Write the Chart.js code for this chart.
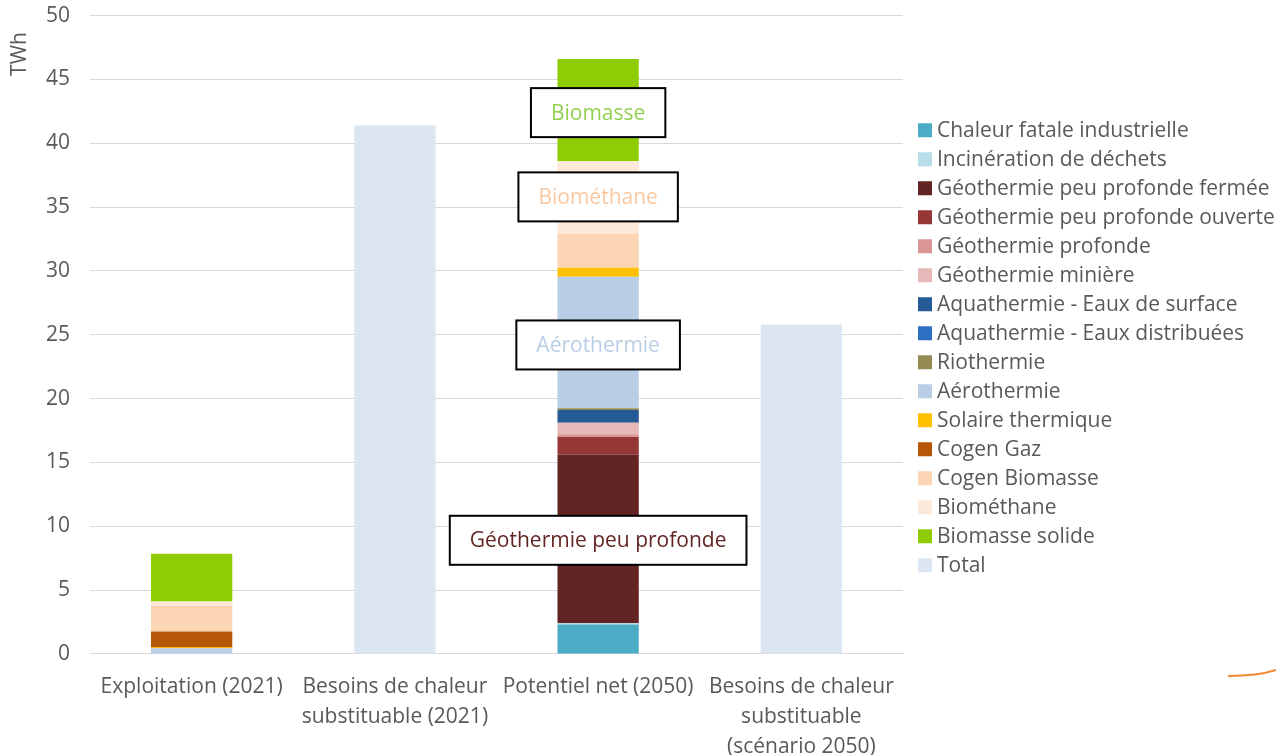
<!DOCTYPE html>
<html>
<head>
<meta charset="utf-8">
<script src="https://cdn.jsdelivr.net/npm/chart.js@4/dist/chart.umd.min.js"></script>
<style>
  html, body { margin: 0; padding: 0; background: #fff; }
  #wrap { width: 1276px; height: 755px; }
</style>
</head>
<body>
<div id="wrap"><canvas id="chart" width="1276" height="755"></canvas></div>
<script>
const categories = [
    "Exploitation (2021)",
    ["Besoins de chaleur", "substituable (2021)"],
    "Potentiel net (2050)",
    ["Besoins de chaleur", "substituable", "(scénario 2050)"]
];

// TWh par filière, une valeur par catégorie
const chaleurFatale   = [0,    null, 2.3,  null];
const incineration    = [0,    null, 0.1,  null];
const geoFermee       = [0,    null, 13.2, null];
const geoOuverte      = [0,    null, 1.4,  null];
const geoProfonde     = [0,    null, 0.2,  null];
const geoMiniere      = [0,    null, 0.9,  null];
const aquaSurface     = [0,    null, 1.0,  null];
const aquaDistrib     = [0,    null, 0,    null];
const riothermie      = [0,    null, 0.15, null];
const aerothermie     = [0.45, null, 10.3, null];
const solaire         = [0.1,  null, 0.7,  null];
const cogenGaz        = [1.2,  null, 0,    null];
const cogenBiomasse   = [2.05, null, 2.65, null];
const biomethane      = [0.3,  null, 5.7,  null];
const biomasseSolide  = [3.75, null, 8.0,  null];
const total           = [null, 41.4, null, 25.8];

const yTicks = [0, 5, 10, 15, 20, 25, 30, 35, 40, 45, 50];

// étiquettes encadrées sur la barre "Potentiel net (2050)"
const boxLabels = ["Biomasse", "Biométhane", "Aérothermie", "Géothermie peu profonde"];
const boxValues = [42.4, 35.8, 24.2, 8.9];
const boxColors = ["#92D050", "#FAC8A0", "#B9CDE5", "#632523"];

const FONT = "'Open Sans', sans-serif";
const GREY = '#595959';

const series = [
    ["Chaleur fatale industrielle", chaleurFatale, '#4BACC6'],
    ["Incinération de déchets", incineration, '#B7DEE8'],
    ["Géothermie peu profonde fermée", geoFermee, '#632523'],
    ["Géothermie peu profonde ouverte", geoOuverte, '#953735'],
    ["Géothermie profonde", geoProfonde, '#DA9694'],
    ["Géothermie minière", geoMiniere, '#E6B9B8'],
    ["Aquathermie - Eaux de surface", aquaSurface, '#255A96'],
    ["Aquathermie - Eaux distribuées", aquaDistrib, '#3070C4'],
    ["Riothermie", riothermie, '#948A54'],
    ["Aérothermie", aerothermie, '#B9CDE5'],
    ["Solaire thermique", solaire, '#FFC000'],
    ["Cogen Gaz", cogenGaz, '#B65708'],
    ["Cogen Biomasse", cogenBiomasse, '#FCD5B5'],
    ["Biométhane", biomethane, '#FDE9D9'],
    ["Biomasse solide", biomasseSolide, '#8FCC04'],
    ["Total", total, '#DCE6F2']
];

const datasets = series.map(s => ({
    label: s[0],
    data: s[1],
    backgroundColor: s[2],
    borderWidth: 0,
    barPercentage: 0.4,
    categoryPercentage: 1.0
}));

// la légende native est limitée en largeur, on la dessine à droite
const sideLegend = {
    id: 'sideLegend',
    afterDraw(chart) {
        const c = chart.ctx;
        const x0 = chart.chartArea.right + 15;
        const rowH = 29;
        const n = chart.data.datasets.length;
        let y = (chart.chartArea.top + chart.chartArea.bottom) / 2 - (n - 1) * rowH / 2 + 13;
        c.save();
        c.font = '21px ' + FONT;
        c.textBaseline = 'middle';
        c.textAlign = 'left';
        chart.data.datasets.forEach(ds => {
            c.fillStyle = ds.backgroundColor;
            c.fillRect(x0, y - 7, 14, 14);
            c.fillStyle = GREY;
            c.fillText(ds.label, x0 + 19, y + 1);
            y += rowH;
        });
        c.restore();
    }
};

const boxPlugin = {
    id: 'boxLabels',
    afterDatasetsDraw(chart) {
        const c = chart.ctx;
        const x = chart.scales.x.getPixelForValue(2);
        c.save();
        c.font = '21px ' + FONT;
        c.textAlign = 'center';
        c.textBaseline = 'middle';
        boxLabels.forEach((t, i) => {
            const y = chart.scales.y.getPixelForValue(boxValues[i]);
            const w = c.measureText(t).width + 40;
            const h = 49;
            c.fillStyle = '#fff';
            c.fillRect(x - w / 2, y - h / 2, w, h);
            c.lineWidth = 2;
            c.strokeStyle = '#000';
            c.strokeRect(x - w / 2, y - h / 2, w, h);
            c.fillStyle = boxColors[i];
            c.fillText(t, x, y + 1);
        });
        // titre de l'axe
        c.save();
        c.translate(20, 54);
        c.rotate(-Math.PI / 2);
        c.fillStyle = GREY;
        c.fillText('TWh', 0, 0);
        c.restore();
        // petit arc orange en bas à droite
        c.beginPath();
        c.strokeStyle = '#F08A30';
        c.lineWidth = 2;
        c.moveTo(1228, 676);
        c.quadraticCurveTo(1258, 676, 1276, 670);
        c.stroke();
        c.restore();
    }
};

new Chart(document.getElementById('chart').getContext('2d'), {
    type: 'bar',
    data: { labels: categories, datasets: datasets },
    plugins: [boxPlugin, sideLegend],
    options: {
        responsive: false,
        animation: false,
        layout: { padding: { top: 0, right: 373, left: 43, bottom: -17 } },
        plugins: {
            legend: { display: false },
            tooltip: { enabled: false }
        },
        scales: {
            x: {
                stacked: true,
                grid: { display: false },
                border: { color: '#D9D9D9' },
                ticks: { color: GREY, font: { family: FONT, size: 21, lineHeight: 1.43 }, maxRotation: 0, autoSkip: false, padding: 10 }
            },
            y: {
                stacked: true,
                min: 0,
                max: 50,
                afterBuildTicks(scale) { scale.ticks = yTicks.map(v => ({ value: v })); },
                grid: { color: '#D9D9D9', drawTicks: true, tickLength: 17, tickColor: 'rgba(0,0,0,0)' },
                border: { display: false },
                ticks: { color: GREY, font: { family: FONT, size: 21 }, padding: 3 }
            }
        }
    }
});
</script>
</body>
</html>
